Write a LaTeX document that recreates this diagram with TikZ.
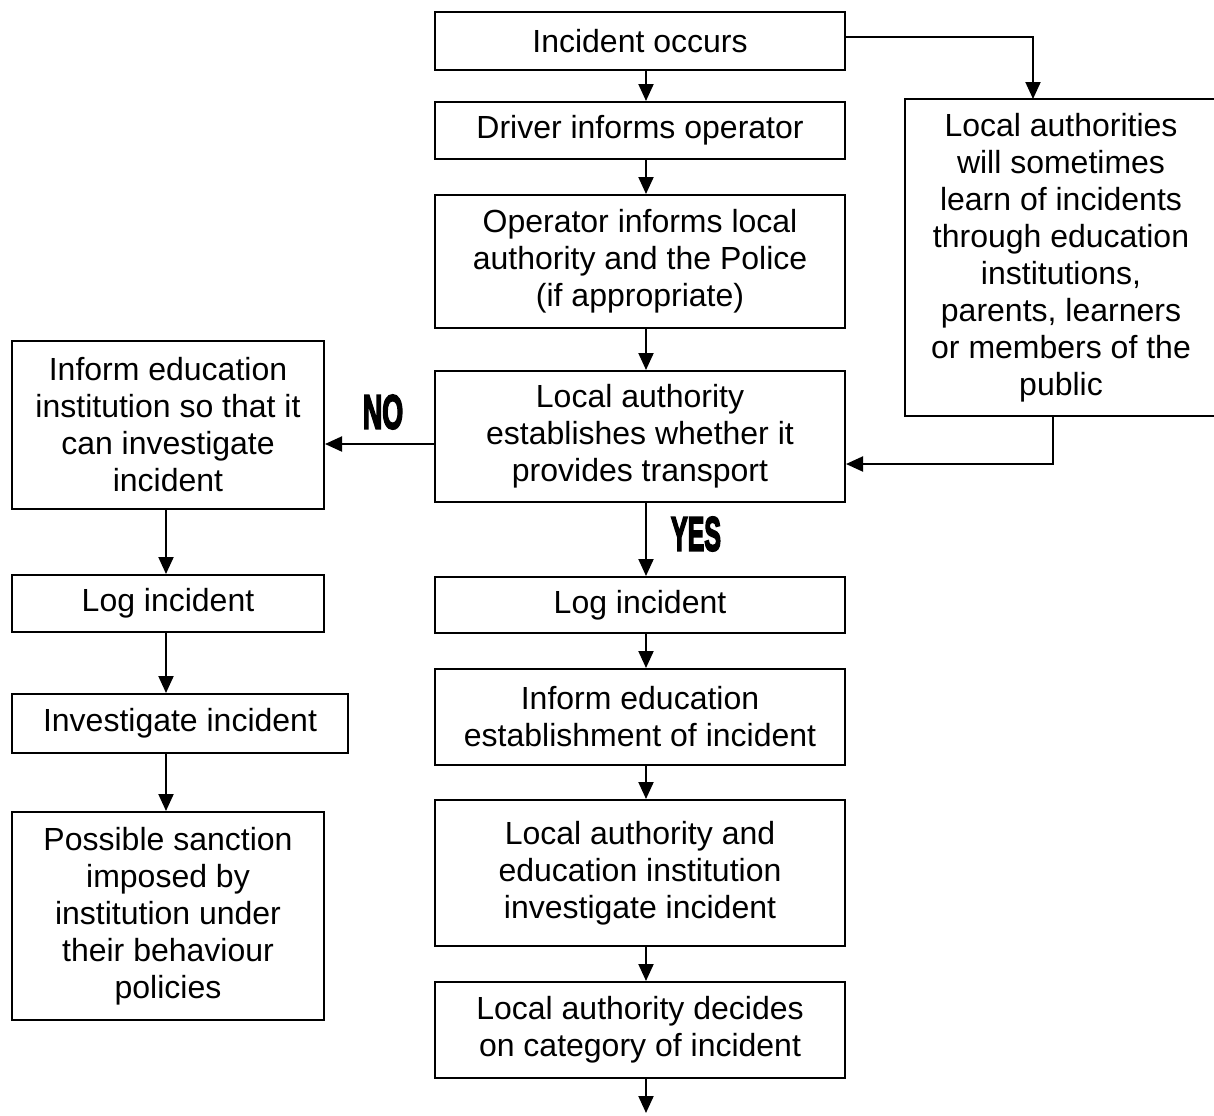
\documentclass[tikz,border=0pt]{standalone}
\usepackage{fontspec}
\setmainfont{Liberation Sans}
\newfontfamily\heavyfont[FakeBold=4.5]{Liberation Sans}
\usetikzlibrary{arrows.meta}
\tikzset{
  box/.style={draw, line width=1pt, inner sep=0pt, align=center, font=\fontsize{16}{18.5}\selectfont},
  openbox/.style={box, draw=none},
  arr/.style={line width=1pt, -{Triangle[length=8.5pt,width=7.5pt]}},
  conn/.style={line width=1pt},
  lbl/.style={inner sep=0pt, font=\fontsize{24}{26}\selectfont\heavyfont\bfseries}
}
\begin{document}
\begin{tikzpicture}[x=0.5pt,y=-0.5pt]
\useasboundingbox (0,0) rectangle (1214,1115);
% centre column
\node[box, minimum width=205pt, minimum height=29pt] (n1) at (640,41) {Incident occurs};
\node[box, minimum width=205pt, minimum height=28.5pt] (n2) at (640,130.5) {Driver informs operator};
\node[box, minimum width=205pt, minimum height=66.5pt] (n3) at (640,261.5) {Operator informs local\\authority and the Police\\(if appropriate)};
\node[box, minimum width=205pt, minimum height=65.5pt] (n4) at (640,436.5) {Local authority\\establishes whether it\\provides transport};
\node[box, minimum width=205pt, minimum height=28pt] (n5) at (640,605) {Log incident};
\node[box, minimum width=205pt, minimum height=48pt] (n6) at (640,717) {Inform education\\establishment of incident};
\node[box, minimum width=205pt, minimum height=73pt] (n7) at (640,873) {Local authority and\\education institution\\investigate incident};
\node[box, minimum width=205pt, minimum height=48pt] (n8) at (640,1030) {Local authority decides\\on category of incident};
% right box (its right edge lies beyond the page)
\node[openbox, minimum width=155pt, minimum height=157.5pt] (r) at (1061,257.5) {Local authorities\\will sometimes\\learn of incidents\\through education\\institutions,\\parents, learners\\or members of the\\public};
\coordinate (rx) at (1230,0);
\draw[conn] (rx |- r.north) -- (r.north west) -- (r.south west) -- (rx |- r.south);
% left column
\node[box, minimum width=156pt, minimum height=84pt] (a) at (168,425) {Inform education\\institution so that it\\can investigate\\incident};
\node[box, minimum width=156pt, minimum height=28.5pt] (b) at (168,603.5) {Log incident};
\node[box, minimum width=168pt, minimum height=29.5pt] (c) at (180,723.5) {Investigate incident};
\node[box, minimum width=156pt, minimum height=104pt] (d) at (168,916) {Possible sanction\\imposed by\\institution under\\their behaviour\\policies};
% labels
\node[lbl] (no) at (383,412) {\scalebox{0.56}[1]{NO}};
\node[lbl] (yes) at (696,534) {\scalebox{0.52}[1]{YES}};
% helper coordinates
\coordinate (ax) at (646,0);
\coordinate (lx) at (166,0);
\coordinate (tx) at (1033,0);
\coordinate (bx) at (1053,0);
\coordinate (end) at (646,1113);
% centre arrows
\draw[arr] (n1.south -| ax) -- (n2.north -| ax);
\draw[arr] (n2.south -| ax) -- (n3.north -| ax);
\draw[arr] (n3.south -| ax) -- (n4.north -| ax);
\draw[arr] (n4.south -| ax) -- (n5.north -| ax);
\draw[arr] (n5.south -| ax) -- (n6.north -| ax);
\draw[arr] (n6.south -| ax) -- (n7.north -| ax);
\draw[arr] (n7.south -| ax) -- (n8.north -| ax);
\draw[arr] (n8.south -| ax) -- (end);
% right connectors
\draw[arr] ([yshift=2pt]n1.east) -| (tx |- r.north);
\draw[arr] (bx |- r.south) |- ([yshift=-13.75pt]n4.east);
% NO branch
\draw[arr] ([yshift=-3.75pt]n4.west) -- ([yshift=-3.75pt]n4.west -| a.east);
% left arrows
\draw[arr] (a.south -| lx) -- (b.north -| lx);
\draw[arr] (b.south -| lx) -- (c.north -| lx);
\draw[arr] (c.south -| lx) -- (d.north -| lx);
\end{tikzpicture}
\end{document}
